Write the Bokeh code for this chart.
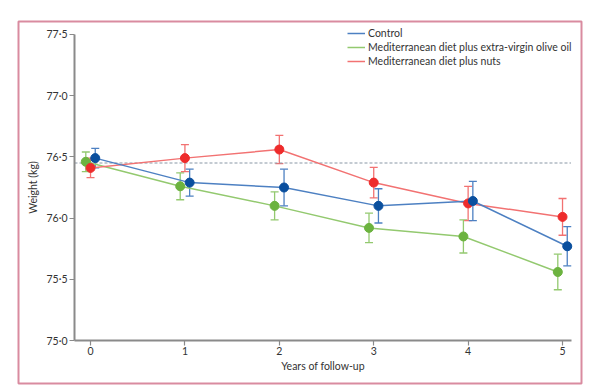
from bokeh.plotting import figure
from bokeh.models import (ColumnDataSource, Whisker, Legend, LegendItem,
                          FixedTicker, Range1d, TeeHead)
from bokeh.embed import file_html
from bokeh.resources import INLINE

# ---- data ----
years = [0, 1, 2, 3, 4, 5]
x_ticks = [0, 1, 2, 3, 4, 5]
x_tick_labels = ["0", "1", "2", "3", "4", "5"]
y_ticks = [75.0, 75.5, 76.0, 76.5, 77.0, 77.5]
y_tick_labels = ["75·0", "75·5", "76·0", "76·5", "77·0", "77·5"]

control = [76.49, 76.29, 76.25, 76.10, 76.14, 75.77]
control_err = [0.08, 0.11, 0.15, 0.14, 0.16, 0.16]
evoo = [76.46, 76.26, 76.10, 75.92, 75.85, 75.56]
evoo_err = [0.08, 0.11, 0.115, 0.12, 0.135, 0.145]
nuts = [76.41, 76.49, 76.56, 76.29, 76.12, 76.01]
nuts_err = [0.08, 0.11, 0.115, 0.125, 0.14, 0.15]
baseline = 76.45

# axis extents
x_bounds = (-0.17, 5.09)
y_bounds = (75.0, 77.5)

FONT = "Lato"

p = figure(frame_width=563, frame_height=362, output_backend="svg",
           toolbar_location=None, x_range=Range1d(-0.763, 5.201),
           y_range=Range1d(74.649, 77.606))
p.min_border_left = 18
p.min_border_right = 15
p.min_border_top = 21
p.min_border_bottom = 5
p.outline_line_color = "#d98ba0"
p.outline_line_width = 2
p.xgrid.visible = False
p.ygrid.visible = False
p.background_fill_color = "white"
p.border_fill_color = "white"

for ax in (p.xaxis[0], p.yaxis[0]):
    ax.axis_line_color = "#8a8a8a"
    ax.axis_line_width = 2
    ax.major_tick_line_color = "#8a8a8a"
    ax.major_tick_line_width = 1.2
    ax.minor_tick_line_color = None
    ax.major_tick_in = 0
    ax.major_tick_out = 5
    ax.major_label_text_font = FONT
    ax.major_label_text_font_size = "10.5px"
    ax.major_label_text_color = "#333333"
    ax.axis_label_text_font = FONT
    ax.axis_label_text_font_size = "10.5px"
    ax.axis_label_text_font_style = "normal"
    ax.axis_label_text_color = "#333333"

p.xaxis.ticker = FixedTicker(ticks=x_ticks)
p.xaxis.major_label_overrides = dict(zip(x_ticks, x_tick_labels))
p.yaxis.ticker = FixedTicker(ticks=y_ticks)
p.yaxis.major_label_overrides = dict(zip(y_ticks, y_tick_labels))
p.xaxis.axis_label = "Years of follow-up"
p.yaxis.axis_label = "Weight (kg)"
p.xaxis.major_label_standoff = 1
p.yaxis.major_label_standoff = 2
p.xaxis.axis_label_standoff = 2
p.yaxis.axis_label_standoff = 5
p.xaxis.fixed_location = y_bounds[0]
p.yaxis.fixed_location = x_bounds[0]
p.xaxis.bounds = x_bounds
p.yaxis.bounds = y_bounds

# dashed baseline reference
p.line(x=list(x_bounds), y=[baseline, baseline], line_color="#8a98a6",
       line_width=1.2, line_dash="3 2")

series = [
    ("Mediterranean diet plus extra-virgin olive oil", evoo, evoo_err, -0.05, "#93c96f", "#6cb33f"),
    ("Mediterranean diet plus nuts", nuts, nuts_err, 0.0, "#f27272", "#ee2b2b"),
    ("Control", control, control_err, 0.05, "#4d80c2", "#0a4f9e"),
]

line_r = {}
for name, vals, errs, off, lc, mc in series:
    src = ColumnDataSource(dict(
        x=[y + off for y in years], y=vals,
        upper=[v + e for v, e in zip(vals, errs)],
        lower=[v - e for v, e in zip(vals, errs)]))
    lr = p.line("x", "y", source=src, line_color=lc, line_width=1.5)
    line_r[name] = lr
    w = Whisker(base="x", upper="upper", lower="lower", source=src,
                line_color=lc, line_width=1.3,
                upper_head=TeeHead(size=8, line_color=lc, line_width=1.3),
                lower_head=TeeHead(size=8, line_color=lc, line_width=1.3))
    p.add_layout(w)

for name, vals, errs, off, lc, mc in series:
    src = ColumnDataSource(dict(x=[y + off for y in years], y=vals))
    p.scatter("x", "y", source=src, size=9, fill_color=mc, line_color=mc)

legend = Legend(items=[
    LegendItem(label="Control", renderers=[line_r["Control"]]),
    LegendItem(label="Mediterranean diet plus extra-virgin olive oil",
               renderers=[line_r["Mediterranean diet plus extra-virgin olive oil"]]),
    LegendItem(label="Mediterranean diet plus nuts",
               renderers=[line_r["Mediterranean diet plus nuts"]]),
], location=(329, 315))
legend.label_text_font = FONT
legend.label_text_font_size = "10.5px"
legend.label_text_color = "#333333"
legend.glyph_width = 18
legend.glyph_height = 14
legend.label_height = 14
legend.label_standoff = 3
legend.spacing = 0
legend.padding = 0
legend.margin = 0
legend.background_fill_alpha = 0
legend.border_line_alpha = 0
p.add_layout(legend)

open("out.html", "w").write(file_html(p, INLINE))
